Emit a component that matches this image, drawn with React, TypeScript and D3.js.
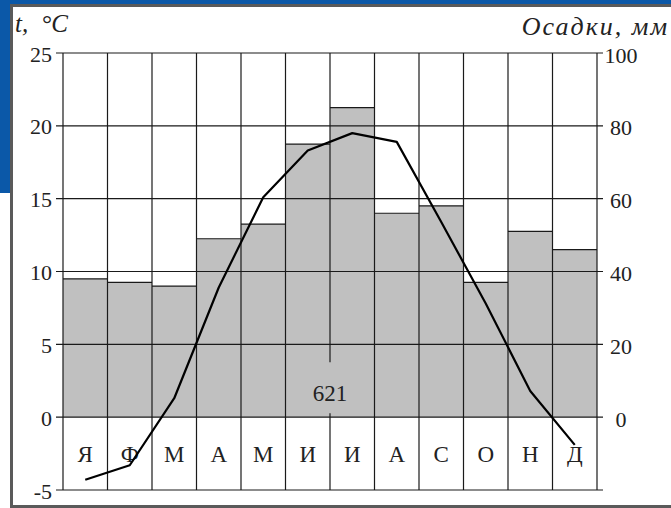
import React from 'react';
import * as d3 from 'd3';

const months = ['Я', 'Ф', 'М', 'А', 'М', 'И', 'И', 'А', 'С', 'О', 'Н', 'Д'];
const precipitation = [38, 37, 36, 49, 53, 75, 85, 56, 58, 37, 51, 46];
const temperature = [-4.3, -3.3, 1.3, 8.9, 15.1, 18.3, 19.5, 18.9, 13.4, 7.8, 1.8, -1.9];
const tempTicks = [-5, 0, 5, 10, 15, 20, 25];
const precipTicks = [0, 20, 40, 60, 80, 100];
const annualTotal = '621';

export default function App() {
  const W = 671;
  const H = 508;
  const left = 63;
  const right = 597;
  const x = d3.scaleBand<number>().domain(d3.range(12)).range([left, right]).padding(0);
  const yT = d3.scaleLinear().domain([-5, 25]).range([490, 53]);
  const yP = d3.scaleLinear().domain([0, 100]).range([yT(0), yT(25)]);
  const step = x.step();
  const bounds = d3.range(13).map((i) => left + i * step);
  const line = d3
    .line<number>()
    .x((_, i) => (x(i) as number) + step / 2)
    .y((d) => yT(d));

  const labelY = yT(1.65);
  const serif = '"Liberation Serif", "Times New Roman", serif';
  const gridColor = '#1a1a1a';

  return (
    <svg
      width={W}
      height={H}
      style={{ position: 'absolute', left: 0, top: 0, background: '#fff' }}
    >
      {/* slide background pieces */}
      <rect x={0} y={0} width={W} height={4} fill="#0b58a8" />
      <rect x={0} y={0} width={10} height={193} fill="#0b58a8" />
      {/* frame */}
      <rect x={10} y={4} width={W - 10} height={3} fill="#5a5a5a" />
      <rect x={10} y={4} width={3} height={H - 4} fill="#5a5a5a" />
      <rect x={10} y={505} width={W - 10} height={3} fill="#5a5a5a" />

      {/* bars */}
      {precipitation.map((p, i) => (
        <rect
          key={'b' + i}
          x={x(i)}
          y={yP(p)}
          width={step}
          height={yP(0) - yP(p)}
          fill="#c0c0c0"
        />
      ))}
      {precipitation.map((p, i) => (
        <line
          key={'bt' + i}
          x1={x(i)}
          x2={(x(i) as number) + step}
          y1={yP(p)}
          y2={yP(p)}
          stroke={gridColor}
          strokeWidth={1.2}
        />
      ))}

      {/* horizontal grid + ticks */}
      {tempTicks.map((t) => (
        <line
          key={'h' + t}
          x1={56}
          x2={603}
          y1={yT(t)}
          y2={yT(t)}
          stroke={gridColor}
          strokeWidth={1.2}
        />
      ))}

      {/* vertical grid */}
      {bounds.map((bx, i) =>
        i === 6 ? (
          <g key={'v' + i}>
            <line x1={bx} x2={bx} y1={yT(25)} y2={labelY - 31} stroke={gridColor} strokeWidth={1.2} />
            <line x1={bx} x2={bx} y1={labelY + 20} y2={yT(-5)} stroke={gridColor} strokeWidth={1.2} />
          </g>
        ) : (
          <line key={'v' + i} x1={bx} x2={bx} y1={yT(25)} y2={yT(-5)} stroke={gridColor} strokeWidth={1.2} />
        )
      )}

      {/* left tick labels */}
      {tempTicks.map((t) => (
        <text
          key={'lt' + t}
          x={52}
          y={yT(t) + 1}
          textAnchor="end"
          dominantBaseline="central"
          fontFamily={serif}
          fontSize={22}
          fill="#222"
        >
          {t}
        </text>
      ))}

      {/* right tick labels */}
      {precipTicks.map((p) => (
        <text
          key={'rt' + p}
          x={621}
          y={yP(p) + 2}
          textAnchor="middle"
          dominantBaseline="central"
          fontFamily={serif}
          fontSize={22}
          fill="#222"
        >
          {p}
        </text>
      ))}

      {/* month labels */}
      {months.map((m, i) => (
        <text
          key={'m' + i}
          x={(x(i) as number) + step / 2}
          y={(yT(0) + yT(-5)) / 2 + 1}
          textAnchor="middle"
          dominantBaseline="central"
          fontFamily={serif}
          fontSize={23}
          fill="#222"
        >
          {m}
        </text>
      ))}

      {/* annual total */}
      <text
        x={bounds[6]}
        y={labelY}
        textAnchor="middle"
        dominantBaseline="central"
        fontFamily={serif}
        fontSize={23}
        fill="#222"
      >
        {annualTotal}
      </text>

      {/* temperature line */}
      <path d={line(temperature) || ''} fill="none" stroke="#000" strokeWidth={2.2} strokeLinejoin="round" />

      {/* axis titles */}
      <text x={15} y={32} fontFamily={serif} fontStyle="italic" fontSize={25} fill="#222">
        t,
        <tspan dx={13}>°C</tspan>
      </text>
      <text
        x={669}
        y={35}
        textAnchor="end"
        fontFamily={serif}
        fontStyle="italic"
        fontSize={26}
        letterSpacing={2}
        fill="#222"
      >
        Осадки, мм
      </text>
    </svg>
  );
}
